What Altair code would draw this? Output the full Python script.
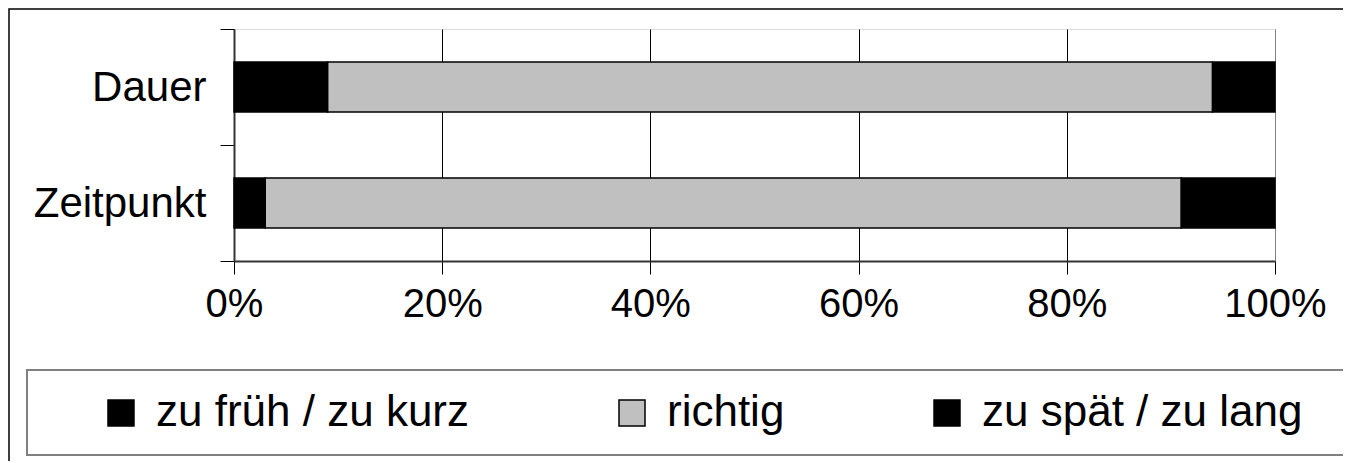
import altair as alt
import pandas as pd

categories = ["Dauer", "Zeitpunkt"]
series = ["zu früh / zu kurz", "richtig", "zu spät / zu lang"]
dauer_values = [9, 85, 6]
zeitpunkt_values = [3, 88, 9]
tick_values = [0, 0.2, 0.4, 0.6, 0.8, 1.0]
series_colors = ["#000000", "#C0C0C0", "#000000"]

FONT = "Liberation Sans"

rows = []
for cat, vals in zip(categories, [dauer_values, zeitpunkt_values]):
    for i, (s, v) in enumerate(zip(series, vals)):
        rows.append({"Kategorie": cat, "Antwort": s, "Anteil": v, "Reihenfolge": i})
df = pd.DataFrame(rows)

bars = alt.Chart(df).mark_bar(size=50, stroke="black", strokeWidth=1.5).encode(
    y=alt.Y(
        "Kategorie:N",
        sort=categories,
        scale=alt.Scale(paddingInner=0, paddingOuter=0),
        axis=alt.Axis(
            title=None,
            labelFontSize=42,
            labelFont=FONT,
            labelColor="black",
            labelPadding=14,
            tickSize=14,
            tickColor="black",
            tickWidth=1,
            domainColor="#333333",
            domainWidth=2,
            tickBand="extent",
            grid=False,
            labelAngle=0,
        ),
    ),
    x=alt.X(
        "Anteil:Q",
        stack="normalize",
        scale=alt.Scale(domain=[0, 1], nice=False),
        axis=alt.Axis(
            values=tick_values,
            format="%",
            title=None,
            labelFontSize=40,
            labelFont=FONT,
            labelColor="black",
            labelPadding=10,
            labelFlush=False,
            labelOverlap=False,
            tickSize=13,
            tickColor="black",
            tickWidth=1,
            domainColor="#333333",
            domainWidth=2,
            grid=True,
            gridColor={"condition": {"test": "datum.value >= 1", "value": "#808080"}, "value": "black"},
            gridWidth=1,
        ),
    ),
    color=alt.Color(
        "Antwort:N",
        sort=series,
        scale=alt.Scale(domain=series, range=series_colors),
        legend=alt.Legend(
            title=None,
            orient="none",
            legendX=-135,
            legendY=362,
            direction="horizontal",
            symbolType="square",
            symbolSize=676,
            symbolStrokeColor="black",
            symbolStrokeWidth=1.5,
            labelFontSize=44,
            labelFont=FONT,
            labelColor="black",
            labelOffset=13,
            columnPadding=140,
            padding=0,
            labelLimit=0,
        ),
    ),
    order=alt.Order("Reihenfolge:Q"),
)

frame_df = pd.DataFrame({"f": [0]})
outer_frame = alt.Chart(frame_df).mark_rect(
    fill="white", fillOpacity=0, stroke="black", strokeWidth=1.5
).encode(
    x=alt.value(-225), x2=alt.value(1300), y=alt.value(-20), y2=alt.value(520)
)
legend_frame = alt.Chart(frame_df).mark_rect(
    fill="white", fillOpacity=0, stroke="#808080", strokeWidth=2
).encode(
    x=alt.value(-207), x2=alt.value(1300), y=alt.value(341), y2=alt.value(426)
)

chart = alt.layer(outer_frame, legend_frame, bars).properties(
    width=1041,
    height=232,
    autosize=alt.AutoSizeParams(type="none"),
    padding={"left": 226, "top": 21, "right": 68, "bottom": 200},
).configure_view(
    stroke="#808080", strokeWidth=2.5
).configure(font=FONT)

chart.save("out.html", embed_options={"renderer": "svg", "actions": False})
